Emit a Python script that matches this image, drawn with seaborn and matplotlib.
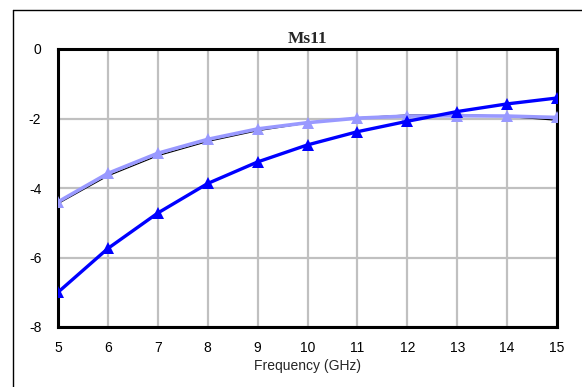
import matplotlib
matplotlib.use("Agg")
import matplotlib.pyplot as plt
import seaborn as sns
import pandas as pd
from matplotlib.lines import Line2D

freq = [5, 6, 7, 8, 9, 10, 11, 12, 13, 14, 15]
black_vals = [-4.45, -3.65, -3.07, -2.66, -2.35, -2.13, -1.98, -1.90, -1.88, -1.94, -2.05]
light_vals = [-4.40, -3.58, -3.00, -2.60, -2.30, -2.12, -1.99, -1.93, -1.92, -1.93, -1.97]
blue_vals = [-7.00, -5.74, -4.72, -3.87, -3.25, -2.76, -2.38, -2.08, -1.80, -1.58, -1.41]
title = "Ms11"
xlabel = "Frequency (GHz)"
xticks = [5, 6, 7, 8, 9, 10, 11, 12, 13, 14, 15]
yticks = [0, -2, -4, -6, -8]

sns.set_style("white")
plt.rcParams['font.family'] = ['Liberation Sans', 'DejaVu Sans']

df = pd.DataFrame({"freq": freq, "black": black_vals, "light": light_vals, "blue": blue_vals})

fig = plt.figure(figsize=(5.82, 3.87), dpi=100)
ax = fig.add_axes([58/582, 1-327/387, (557-58)/582, (327-49)/387])

sns.lineplot(data=df, x="freq", y="black", ax=ax, color="black", linewidth=0.9,
             marker="o", markersize=2.5, markeredgewidth=0, zorder=3)
sns.lineplot(data=df, x="freq", y="light", ax=ax, color="#9999FF", linewidth=2.6,
             marker="^", markersize=8, markeredgewidth=0, zorder=4)
sns.lineplot(data=df, x="freq", y="blue", ax=ax, color="#0000FF", linewidth=2.4,
             marker="^", markersize=8, markeredgewidth=0, zorder=5)

ax.set_xlim(5, 15)
ax.set_ylim(-8, 0)
ax.set_xticks(xticks)
ax.set_yticks(yticks)
ax.set_xticklabels([str(t) for t in xticks])
ax.set_yticklabels([str(t) for t in yticks])
ax.grid(True, color="#C0C0C0", linewidth=1.6, zorder=0)
ax.set_axisbelow(True)
for s in ax.spines.values():
    s.set_color("black")
    s.set_linewidth(2.2)
    s.set_visible(True)
ax.tick_params(axis="both", length=0, labelsize=10, colors="black")
ax.tick_params(axis="x", pad=10)
ax.tick_params(axis="y", pad=12)
ax.set_xlabel(xlabel, fontsize=10, labelpad=3)
ax.set_ylabel("")
ax.set_title(title, fontsize=12.5, fontweight="bold", family=["Liberation Serif"], pad=4)

# outer chart frame
fig.add_artist(Line2D([13/582, 13/582], [0, 1-10/387], transform=fig.transFigure, color="black", linewidth=1))
fig.add_artist(Line2D([13/582, 1], [1-10/387, 1-10/387], transform=fig.transFigure, color="black", linewidth=1))

fig.savefig("out.png", dpi=100)
